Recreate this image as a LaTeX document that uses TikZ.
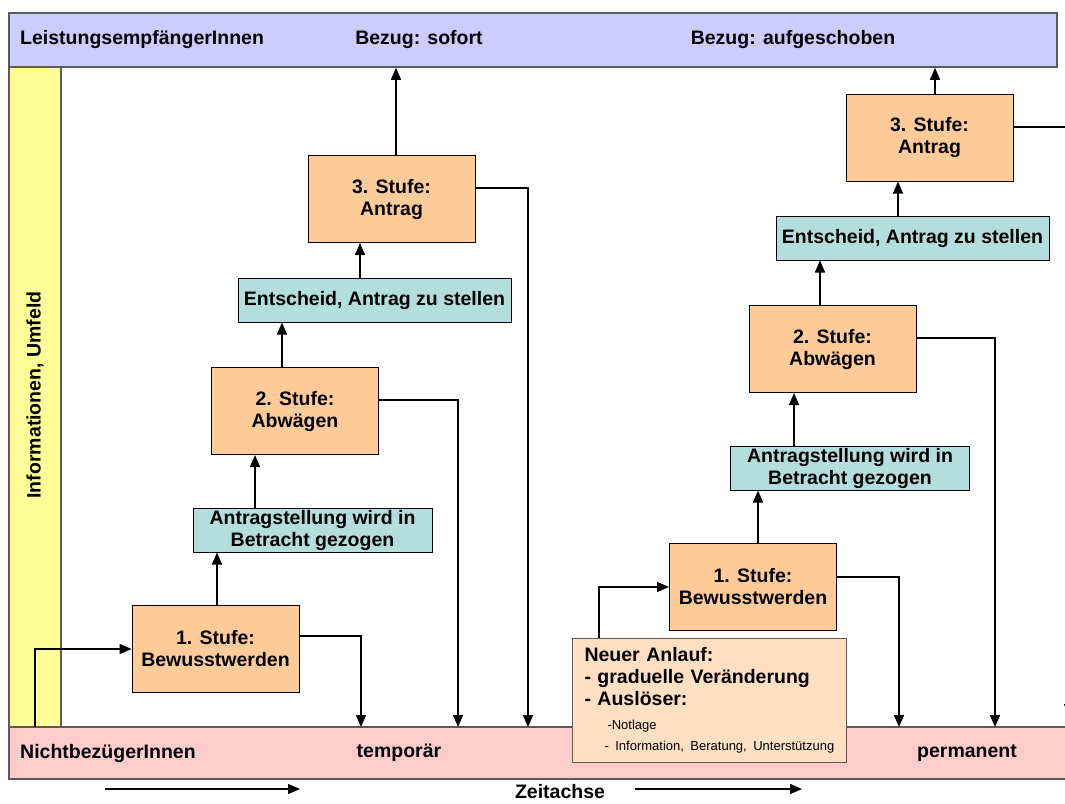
\documentclass[tikz,border=0pt]{standalone}
\usepackage{fontspec}
\setmainfont{Liberation Sans}
\usepackage{tikz}
\usetikzlibrary{arrows.meta}
\definecolor{bezugblau}{RGB}{204,204,255}
\definecolor{umfeldgelb}{RGB}{255,255,153}
\definecolor{nichtrosa}{RGB}{255,204,204}
\definecolor{stufenorange}{RGB}{255,204,153}
\definecolor{entscheidtuerkis}{RGB}{180,222,222}
\definecolor{anlaufhell}{RGB}{255,224,194}
\definecolor{bandrand}{RGB}{90,90,90}
\newcommand{\grossfett}{\bfseries\fontsize{19.5}{22}\selectfont}
\newcommand{\kleinnormal}{\mdseries\fontsize{13}{21}\selectfont}
\tikzstyle{band} = [draw=bandrand, line width=1.5pt, inner sep=0pt]
\tikzstyle{stufe} = [draw=black, fill=stufenorange, line width=1pt,
    minimum width=167pt, minimum height=87pt, inner sep=0pt,
    align=center, font=\grossfett]
\tikzstyle{entscheid} = [draw=black, fill=entscheidtuerkis, line width=1pt,
    minimum height=44pt, inner sep=0pt, align=center, font=\grossfett]
\tikzstyle{anlauf} = [draw=bandrand, fill=anlaufhell, line width=1pt,
    text width=250pt, inner xsep=12pt, minimum height=124pt,
    align=left, font=\grossfett]
\tikzstyle{beschriftung} = [inner sep=0pt, font=\grossfett]
\tikzstyle{pfeil} = [line width=1.5pt, -{Triangle[length=12pt,width=10pt]}]

\begin{document}
\begin{tikzpicture}[x=1pt, y=-1pt]
    \useasboundingbox (0,0) rectangle (1065,803);
    \clip (0,0) rectangle (1065,803);

    % Baender
    \node[band, fill=bezugblau, minimum width=1048pt, minimum height=54pt] (oben) at (533,40) {};
    \node[band, fill=umfeldgelb, minimum width=52pt, minimum height=660pt] (umfeld) at (35,397) {};
    \node[band, fill=nichtrosa, minimum width=1066pt, minimum height=52pt] (unten) at (542,753) {};

    \node[beschriftung, anchor=west] (leistung) at (20,40) {LeistungsempfängerInnen};
    \node[beschriftung] (sofort) at (419,40) {Bezug: sofort};
    \node[beschriftung] (aufgeschoben) at (793,40) {Bezug: aufgeschoben};
    \node[beschriftung, anchor=west] (nichtbez) at (20,753) {NichtbezügerInnen};
    \node[beschriftung] (temporaer) at (399,753) {temporär};
    \node[beschriftung] (permanent) at (967,753) {permanent};
    \node[beschriftung, rotate=90] (umfeldtext) at (35,395) {Informationen, Umfeld};

    % linke Treppe
    \node[stufe] (s1) at (215.5,649) {1. Stufe:\\Bewusstwerden};
    \node[entscheid, minimum width=239pt] (a1) at (312.5,530) {Antragstellung wird in\\Betracht gezogen};
    \node[stufe] (s2) at (295,411) {2. Stufe:\\Abwägen};
    \node[entscheid, minimum width=273pt] (e1) at (374.5,300) {Entscheid, Antrag zu stellen};
    \node[stufe] (s3) at (391.5,199) {3. Stufe:\\Antrag};

    % rechte Treppe
    \node[anlauf, anchor=north west] (neu) at (572,638) {%
        Neuer Anlauf:\\
        - graduelle Veränderung\\
        - Auslöser:\par
        \vspace{3pt}
        {\kleinnormal\noindent\hspace*{23pt}-Notlage\\
        \mbox{\hspace*{20pt}- Information, Beratung, Unterstützung}\par}};
    \node[stufe] (r1) at (753,587) {1. Stufe:\\Bewusstwerden};
    \node[entscheid, minimum width=239pt] (ra) at (850,468) {Antragstellung wird in\\Betracht gezogen};
    \node[stufe] (r2) at (832.5,349) {2. Stufe:\\Abwägen};
    \node[entscheid, minimum width=273pt] (re) at (912.5,238) {Entscheid, Antrag zu stellen};
    \node[stufe] (r3) at (929.5,137.5) {3. Stufe:\\Antrag};

    % Ziele auf dem unteren Band
    \coordinate (infoein) at (35,727);
    \coordinate (ab1) at (361,727);
    \coordinate (ab2) at (458,727);
    \coordinate (ab3) at (528,727);
    \coordinate (rab1) at (899,727);
    \coordinate (rab2) at (995,727);
    \coordinate (rab3) at (1069,716);

    % Pfeile links
    \draw[pfeil] (infoein) |- (s1.west);
    \draw[pfeil] ([xshift=1.5pt]s1.north) -- ([xshift=1.5pt]s1.north |- a1.south);
    \draw[pfeil] ([xshift=-57.5pt]a1.north) -- ([xshift=-57.5pt]a1.north |- s2.south);
    \draw[pfeil] ([xshift=-13pt]s2.north) -- ([xshift=-13pt]s2.north |- e1.south);
    \draw[pfeil] ([xshift=-14.5pt]e1.north) -- ([xshift=-14.5pt]e1.north |- s3.south);
    \draw[pfeil] ([xshift=4.5pt]s3.north) -- ([xshift=4.5pt]s3.north |- oben.south);
    \draw[pfeil] ([yshift=13pt]s1.east) -| (ab1);
    \draw[pfeil] ([yshift=11pt]s2.east) -| (ab2);
    \draw[pfeil] ([yshift=11pt]s3.east) -| (ab3);

    % Pfeile rechts
    \draw[pfeil] ([xshift=27pt]neu.north west) |- (r1.west);
    \draw[pfeil] ([xshift=5pt]r1.north) -- ([xshift=5pt]r1.north |- ra.south);
    \draw[pfeil] ([xshift=-56pt]ra.north) -- ([xshift=-56pt]ra.north |- r2.south);
    \draw[pfeil] ([xshift=-12.5pt]r2.north) -- ([xshift=-12.5pt]r2.north |- re.south);
    \draw[pfeil] ([xshift=-14.5pt]re.north) -- ([xshift=-14.5pt]re.north |- r3.south);
    \draw[pfeil] ([xshift=5.5pt]r3.north) -- ([xshift=5.5pt]r3.north |- oben.south);
    \draw[pfeil] ([yshift=10pt]r1.east) -| (rab1);
    \draw[pfeil] ([yshift=11pt]r2.east) -| (rab2);
    \draw[pfeil] ([yshift=10.5pt]r3.east) -| (rab3);

    % Zeitachse
    \coordinate (zeit1a) at (105,789);
    \coordinate (zeit1b) at (300,789);
    \coordinate (zeit2a) at (635,789);
    \coordinate (zeit2b) at (802,789);
    \draw[pfeil] (zeit1a) -- (zeit1b);
    \draw[pfeil] (zeit2a) -- (zeit2b);
    \node[beschriftung] (zeitachse) at (560,792) {Zeitachse};
\end{tikzpicture}
\end{document}
